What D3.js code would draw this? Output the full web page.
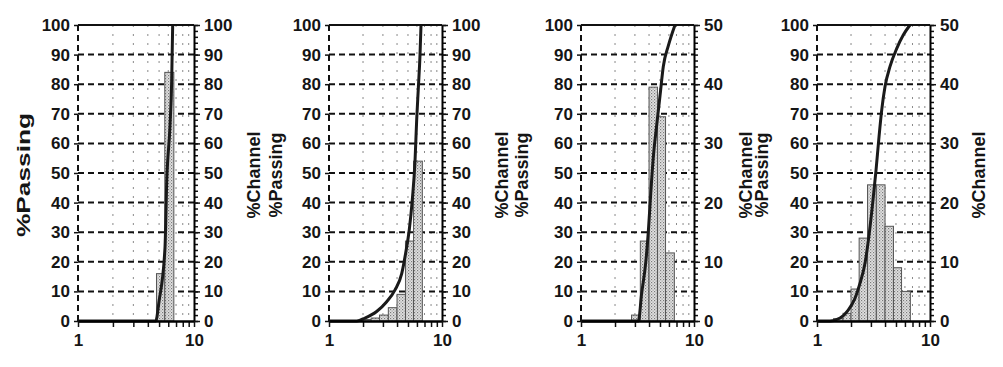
<!DOCTYPE html>
<html>
<head>
<meta charset="utf-8">
<script src="https://cdn.jsdelivr.net/npm/d3@7"></script>
<style>
    body { margin: 0; background: #fff; }
    svg { display: block; font-family: "Liberation Sans", Arial, sans-serif; }
    .tick text { font-size: 17px; fill: #151515; font-weight: bold; }
    .title { font-size: 18px; font-weight: bold; fill: #151515; }
</style>
</head>
<body>
<svg width="1003" height="367"></svg>
<script>
/*
    four size distributions: % channel bars + % passing curve
 */

// sieve bin edges (shared by all panels)
const binEdges = [1.4, 1.7, 2.0, 2.36, 2.8, 3.35, 4.0, 4.75, 5.6, 6.7];

// % channel per bin
const channel1 = [0, 0, 0, 0, 0, 0, 0, 16, 84];
const channel2 = [0, 0, 0.5, 1, 2, 4.5, 9, 27, 54];
const channel3 = [0, 0, 0, 0, 1, 13.5, 39.5, 34.5, 11.5];
const channel4 = [0.4, 1.3, 5.4, 14, 23, 23, 16, 9, 5];

// % passing curves [size, %]
const passing1 = [[1, 0], [4.68, 0], [4.99, 6.5], [5.62, 24.6], [5.82, 47], [6.21, 66], [6.42, 81], [6.55, 100]];
const passing2 = [[1, 0], [1.76, 0], [2.08, 1], [2.64, 3.2], [3.24, 6.5], [3.84, 10.5], [4.4, 16], [4.77, 23],
    [5.14, 31], [5.46, 41], [5.77, 54], [5.97, 68], [6.18, 79], [6.39, 90], [6.52, 100]];
const passing3 = [[1, 0], [3.22, 0], [3.44, 9.3], [3.74, 19.7], [3.94, 30], [4.14, 43], [4.37, 55.6],
    [4.67, 66], [5.0, 76], [5.35, 86], [5.93, 93], [6.79, 100]];
const passing4 = [[1, 0], [1.3, 0], [1.6, 1], [1.89, 3.7], [2.17, 7.7], [2.4, 12.7], [2.66, 19.5], [2.9, 29.6],
    [3.11, 39.8], [3.33, 51], [3.54, 62.3], [3.74, 71.3], [4.0, 79.2], [4.43, 86], [5.07, 92], [5.8, 96.6], [6.65, 100]];

// right axis maxima
const channelMax = [100, 100, 50, 50];

const passingTicks = d3.range(0, 101, 10);
const xLabels = [1, 10];
const xMinor = [2, 3, 4, 5, 6, 7, 8, 9];

const config = {
    top: 25,
    bottom: 321,
    panels: [
        { left: 78, right: 194, passX: 30, chanX: 260, passLen: 124 },
        { left: 329, right: 442, passX: 282, chanX: 508 },
        { left: 581, right: 694, passX: 528, chanX: 752 },
        { left: 817, right: 930, passX: 768, chanX: 985 }
    ]
};

const svg = d3.select("svg");

const defs = svg.append("defs");
const pat = defs.append("pattern")
    .attr("id", "stipple")
    .attr("patternUnits", "userSpaceOnUse")
    .attr("width", 3)
    .attr("height", 3);
pat.append("rect").attr("width", 3).attr("height", 3).attr("fill", "#e2e2e2");
pat.append("rect").attr("width", 1.2).attr("height", 1.2).attr("fill", "#7a7a7a");
pat.append("rect").attr("x", 1.5).attr("y", 1.5).attr("width", 1.2).attr("height", 1.2).attr("fill", "#9a9a9a");

const channels = [channel1, channel2, channel3, channel4];
const passings = [passing1, passing2, passing3, passing4];

config.panels.forEach((p, i) => draw(p, channels[i], passings[i], channelMax[i]));

function draw (p, channel, passing, cmax) {

    const x = d3.scaleLog().domain([1, 10]).range([p.left, p.right]);
    const yL = d3.scaleLinear().domain([0, 100]).range([config.bottom, config.top]);
    const yR = d3.scaleLinear().domain([0, cmax]).range([config.bottom, config.top]);

    const g = svg.append("g");

    // minor vertical grid
    g.selectAll(".vgrid")
        .data(xMinor)
        .enter()
        .append("line")
        .attr("x1", d => x(d)).attr("x2", d => x(d))
        .attr("y1", config.top).attr("y2", config.bottom)
        .attr("stroke", "#8a8a8a")
        .attr("stroke-width", 1)
        .attr("stroke-dasharray", "2,7");

    // horizontal dashed grid
    g.selectAll(".hgrid")
        .data(passingTicks.filter(d => d > 0 && d < 100))
        .enter()
        .append("line")
        .attr("x1", x(1)).attr("x2", x(10))
        .attr("y1", d => yL(d)).attr("y2", d => yL(d))
        .attr("stroke", "#111")
        .attr("stroke-width", 2)
        .attr("stroke-dasharray", "6,4");

    // dashed line at x = 1
    g.append("line")
        .attr("x1", x(1)).attr("x2", x(1))
        .attr("y1", config.top).attr("y2", config.bottom)
        .attr("stroke", "#111")
        .attr("stroke-width", 2)
        .attr("stroke-dasharray", "6,4");

    // % channel bars
    const bins = channel.map((v, j) => ({ x0: binEdges[j], x1: binEdges[j + 1], v: v })).filter(d => d.v > 0);
    g.selectAll(".bar")
        .data(bins)
        .enter()
        .append("rect")
        .attr("x", d => x(d.x0))
        .attr("width", d => x(d.x1) - x(d.x0))
        .attr("y", d => yR(d.v))
        .attr("height", d => yR(0) - yR(d.v))
        .attr("fill", "url(#stipple)")
        .attr("stroke", "#555")
        .attr("stroke-width", 1);

    // % passing curve
    const line = d3.line()
        .x(d => x(d[0]))
        .y(d => yL(d[1]))
        .curve(d3.curveMonotoneX);

    g.append("path")
        .datum(passing)
        .attr("d", line)
        .attr("fill", "none")
        .attr("stroke", "#1a1a1a")
        .attr("stroke-width", 3);

    // top frame
    g.append("line")
        .attr("x1", x(1)).attr("x2", x(10))
        .attr("y1", yL(100)).attr("y2", yL(100))
        .attr("stroke", "#111")
        .attr("stroke-width", 2);

    // axes
    const leftAxis = d3.axisLeft(yL).tickValues(passingTicks).tickSize(4).tickPadding(4);
    g.append("g")
        .attr("transform", `translate(${x(1)}, 0)`)
        .call(leftAxis)
        .call(a => a.select(".domain").remove());

    g.append("g")
        .attr("transform", `translate(${x(10)}, 0)`)
        .call(d3.axisRight(yR).tickValues(d3.range(0, cmax + 0.1, cmax / 50)).tickSize(4).tickFormat(""))
        .call(a => a.select(".domain").remove());

    g.append("g")
        .attr("transform", `translate(${x(10)}, 0)`)
        .call(d3.axisRight(yR).tickValues(d3.range(0, cmax + 0.1, 10)).tickSize(6).tickPadding(4).tickSizeOuter(0))
        .call(a => a.select(".domain").attr("stroke-width", 2));

    g.append("g")
        .attr("transform", `translate(0, ${config.bottom})`)
        .call(d3.axisBottom(x).tickValues(xMinor).tickSize(6).tickFormat(""))
        .call(a => a.select(".domain").remove());

    g.append("g")
        .attr("transform", `translate(0, ${config.bottom})`)
        .call(d3.axisBottom(x).tickValues(xLabels).tickSize(6).tickPadding(7).tickFormat(d3.format("d")).tickSizeOuter(0))
        .call(a => a.select(".domain").attr("stroke-width", 2.5));

    g.selectAll(".tick line").attr("stroke", "#111").attr("stroke-width", 1.5);

    // titles
    const mid = (config.top + config.bottom) / 2 + 2;
    const pt = g.append("text")
        .attr("class", "title")
        .attr("transform", `translate(${p.passX}, ${mid}) rotate(-90)`)
        .attr("text-anchor", "middle")
        .text("%Passing");
    if (p.passLen) pt.attr("textLength", p.passLen).attr("lengthAdjust", "spacingAndGlyphs");

    g.append("text")
        .attr("class", "title")
        .attr("transform", `translate(${p.chanX}, ${mid}) rotate(-90)`)
        .attr("text-anchor", "middle")
        .text("%Channel");
}
</script>
</body>
</html>
